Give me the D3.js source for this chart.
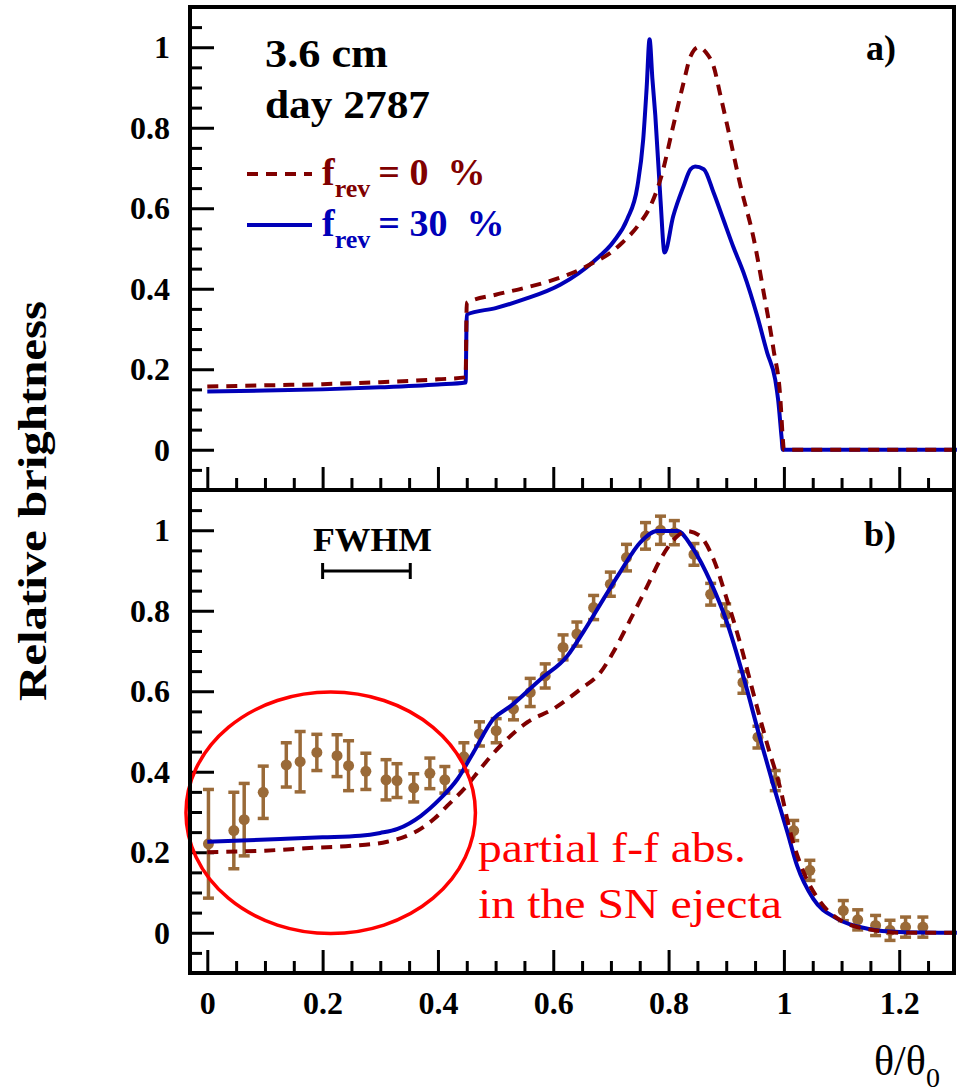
<!DOCTYPE html>
<html>
<head>
<meta charset="utf-8">
<script src="https://cdn.jsdelivr.net/npm/d3@7"></script>
<style>
body{margin:0;background:#fff}
svg text{font-family:"Liberation Serif","DejaVu Serif","Times New Roman",Times,serif}
</style>
</head>
<body>
<script>
// top panel a) model curves [theta/theta0, brightness]
const topNoRev=[[0,0.157],[0.1,0.16],[0.2,0.163],[0.3,0.168],[0.4,0.175],[0.448,0.18],[0.45,0.365],[0.5,0.385],[0.55,0.402],[0.6,0.422],[0.65,0.45],[0.67,0.465],[0.7,0.49],[0.72,0.515],[0.746,0.555],[0.77,0.61],[0.786,0.672],[0.808,0.804],[0.826,0.912],[0.838,0.977],[0.852,1.0],[0.867,0.983],[0.878,0.953],[0.89,0.88],[0.902,0.804],[0.925,0.654],[0.948,0.522],[0.965,0.39],[0.982,0.249],[0.994,0.124],[0.998,0.03],[1.0,0],[1.3,0]];
const topRev30=[[0,0.145],[0.1,0.147],[0.2,0.15],[0.3,0.155],[0.4,0.162],[0.448,0.167],[0.45,0.336],[0.5,0.352],[0.55,0.374],[0.612,0.41],[0.67,0.468],[0.705,0.518],[0.728,0.572],[0.746,0.655],[0.756,0.771],[0.762,0.9],[0.767,1.02],[0.772,0.92],[0.777,0.83],[0.786,0.62],[0.793,0.49],[0.808,0.58],[0.826,0.655],[0.838,0.697],[0.846,0.704],[0.861,0.697],[0.878,0.639],[0.895,0.572],[0.912,0.505],[0.93,0.44],[0.954,0.331],[0.971,0.241],[0.985,0.174],[0.99,0.124],[0.996,0.03],[0.998,0],[1.3,0]];
// bottom panel b) convolved model curves
const botNoRev=[[0,0.2],[0.1,0.204],[0.184,0.211],[0.25,0.216],[0.312,0.226],[0.345,0.24],[0.37,0.258],[0.395,0.285],[0.416,0.315],[0.45,0.365],[0.475,0.41],[0.508,0.464],[0.555,0.523],[0.6,0.556],[0.647,0.605],[0.682,0.647],[0.704,0.697],[0.734,0.779],[0.763,0.861],[0.786,0.928],[0.815,0.985],[0.832,0.998],[0.855,0.985],[0.878,0.928],[0.901,0.829],[0.925,0.715],[0.947,0.595],[0.971,0.469],[0.994,0.357],[1.011,0.25],[1.034,0.151],[1.063,0.077],[1.103,0.027],[1.162,0.005],[1.2,0],[1.3,0]];
const botRev30=[[0,0.226],[0.127,0.233],[0.2,0.237],[0.265,0.241],[0.3,0.248],[0.33,0.258],[0.37,0.29],[0.404,0.333],[0.434,0.382],[0.462,0.449],[0.496,0.531],[0.526,0.563],[0.578,0.63],[0.624,0.687],[0.652,0.747],[0.687,0.829],[0.716,0.896],[0.751,0.97],[0.78,0.998],[0.815,0.998],[0.843,0.953],[0.873,0.871],[0.901,0.772],[0.93,0.635],[0.959,0.481],[0.982,0.365],[1.006,0.25],[1.023,0.166],[1.051,0.084],[1.092,0.035],[1.145,0.01],[1.2,0.002],[1.3,0]];
// measured profile: x, brightness, error
const obsX=[0.002,0.046,0.064,0.097,0.137,0.161,0.19,0.225,0.245,0.275,0.31,0.329,0.358,0.386,0.412,0.445,0.472,0.501,0.531,0.56,0.586,0.617,0.641,0.67,0.699,0.727,0.76,0.786,0.81,0.844,0.873,0.899,0.929,0.955,0.985,1.017,1.045,1.103,1.128,1.159,1.184,1.211,1.241];
const obsY=[0.221,0.254,0.281,0.349,0.417,0.425,0.448,0.44,0.415,0.401,0.38,0.378,0.36,0.396,0.38,0.437,0.494,0.502,0.556,0.597,0.638,0.709,0.742,0.808,0.866,0.932,0.986,1.0,0.994,0.94,0.841,0.79,0.622,0.486,0.378,0.254,0.155,0.055,0.032,0.018,0.006,0.014,0.014];
const obsErr=[0.135,0.095,0.09,0.065,0.055,0.075,0.045,0.052,0.062,0.045,0.05,0.042,0.035,0.038,0.033,0.035,0.03,0.03,0.027,0.035,0.03,0.031,0.03,0.03,0.03,0.033,0.033,0.035,0.03,0.027,0.027,0.027,0.027,0.027,0.025,0.025,0.025,0.025,0.025,0.025,0.025,0.025,0.025];
const yTicks=[0,0.2,0.4,0.6,0.8,1];
const xTicks=[0,0.2,0.4,0.6,0.8,1,1.2];

const FONT='"Liberation Serif","DejaVu Serif","Times New Roman",Times,serif';
const W=960,H=1092,L=190,R=954,T=7,M=490,B=973;
const svg=d3.select("body").append("svg").attr("width",W).attr("height",H).attr("font-family",FONT);
const x=d3.scaleLinear([-0.03,1.295],[L,R]);
const yA=d3.scaleLinear([-0.1,1.1],[M,T]);
const yB=d3.scaleLinear([-0.1,1.1],[B,M]);
const red="#800000",blue="#0000b8",brown="#9a6a38";

const minorY=d3.range(-0.1,1.1001,0.05).map(v=>+v.toFixed(2)).filter(v=>v>-0.1&&v<1.1);
const minorX=d3.range(0,1.3,0.05).map(v=>+v.toFixed(2));

function axes(y,bottomY,labels){
  const gy=svg.append("g").attr("transform",`translate(${L},0)`);
  gy.call(d3.axisLeft(y).tickValues(minorY.filter(v=>!yTicks.includes(v))).tickSize(-12).tickFormat(""));
  gy.append("g").call(d3.axisLeft(y).tickValues(yTicks).tickSize(-24).tickPadding(20).tickFormat(d3.format("")));
  const gx=svg.append("g").attr("transform",`translate(0,${bottomY})`);
  gx.call(d3.axisBottom(x).tickValues(minorX.filter(v=>!xTicks.includes(v))).tickSize(-12).tickFormat(""));
  gx.append("g").call(d3.axisBottom(x).tickValues(xTicks).tickSize(-23).tickPadding(18).tickFormat(labels?d3.format(""):""));
  svg.selectAll(".domain").remove();
  svg.selectAll("g").attr("font-family",FONT);
  svg.selectAll(".tick line").attr("stroke","#000").attr("stroke-width",3);
  svg.selectAll(".tick text").attr("font-weight","bold").attr("font-size",32).attr("fill","#000");
}
axes(yA,M,false);
axes(yB,B,true);

// panel a)
const lineA=d3.line().x(d=>x(d[0])).y(d=>yA(d[1])).curve(d3.curveMonotoneX);
svg.append("path").attr("d",lineA(topRev30)).attr("fill","none").attr("stroke",blue).attr("stroke-width",4);
svg.append("path").attr("d",lineA(topNoRev)).attr("fill","none").attr("stroke",red).attr("stroke-width",4).attr("stroke-dasharray","11,8");

// panel b)
const smooth=d3.line().x(d=>x(d[0])).y(d=>yB(d[1])).curve(d3.curveMonotoneX);
const obs=obsX.map((v,i)=>({x:v,y:obsY[i],e:obsErr[i]}));
const gp=svg.append("g").attr("stroke",brown).attr("stroke-width",3.5);
gp.selectAll("line.bar").data(obs).join("line").attr("x1",d=>x(d.x)).attr("x2",d=>x(d.x)).attr("y1",d=>yB(d.y-d.e)).attr("y2",d=>yB(d.y+d.e));
gp.selectAll("line.lo").data(obs).join("line").attr("class","lo").attr("x1",d=>x(d.x)-5.5).attr("x2",d=>x(d.x)+5.5).attr("y1",d=>yB(d.y-d.e)).attr("y2",d=>yB(d.y-d.e));
gp.selectAll("line.hi").data(obs).join("line").attr("class","hi").attr("x1",d=>x(d.x)-5.5).attr("x2",d=>x(d.x)+5.5).attr("y1",d=>yB(d.y+d.e)).attr("y2",d=>yB(d.y+d.e));
svg.append("g").selectAll("circle").data(obs).join("circle").attr("cx",d=>x(d.x)).attr("cy",d=>yB(d.y)).attr("r",5.5).attr("fill",brown);
svg.append("path").attr("d",smooth(botRev30)).attr("fill","none").attr("stroke",blue).attr("stroke-width",4);
svg.append("path").attr("d",smooth(botNoRev)).attr("fill","none").attr("stroke",red).attr("stroke-width",4).attr("stroke-dasharray","11,8");

// red ellipse annotation
svg.append("ellipse").attr("cx",x(0.214)).attr("cy",yB(0.298)).attr("rx",x(0.251)-x(0)).attr("ry",yB(0)-yB(0.3))
  .attr("fill","none").attr("stroke","#ff0000").attr("stroke-width",3.5);
svg.append("text").attr("x",478).attr("y",862).attr("font-size",42).attr("fill","#ff0000").attr("textLength",268).attr("lengthAdjust","spacingAndGlyphs").text("partial f-f abs.");
svg.append("text").attr("x",478).attr("y",918).attr("font-size",42).attr("fill","#ff0000").attr("textLength",304).attr("lengthAdjust","spacingAndGlyphs").text("in the SN ejecta");

// FWHM bar
svg.append("text").attr("x",313).attr("y",551).attr("font-size",33).attr("font-weight","bold").attr("textLength",119).attr("lengthAdjust","spacingAndGlyphs").text("FWHM");
const fw=svg.append("g").attr("stroke","#000").attr("stroke-width",3);
fw.append("line").attr("x1",x(0.2)).attr("x2",x(0.352)).attr("y1",571).attr("y2",571);
fw.append("line").attr("x1",x(0.2)).attr("x2",x(0.2)).attr("y1",563).attr("y2",579);
fw.append("line").attr("x1",x(0.352)).attr("x2",x(0.352)).attr("y1",563).attr("y2",579);

// frame
svg.append("rect").attr("x",L).attr("y",T).attr("width",R-L).attr("height",B-T).attr("fill","none").attr("stroke","#000").attr("stroke-width",4);
svg.append("line").attr("x1",L).attr("x2",R).attr("y1",M).attr("y2",M).attr("stroke","#000").attr("stroke-width",4);

// labels
svg.append("text").attr("x",265).attr("y",67).attr("font-size",40).attr("font-weight","bold").attr("textLength",123).attr("lengthAdjust","spacingAndGlyphs").text("3.6 cm");
svg.append("text").attr("x",265).attr("y",118).attr("font-size",40).attr("font-weight","bold").attr("textLength",165).attr("lengthAdjust","spacingAndGlyphs").text("day 2787");
svg.append("text").attr("x",866).attr("y",60).attr("font-size",36).attr("font-weight","bold").text("a)");
svg.append("text").attr("x",864).attr("y",546).attr("font-size",36).attr("font-weight","bold").text("b)");

const leg=[{c:red,dash:"11,8",v:"= 0  %",y:174},{c:blue,dash:null,v:"= 30  %",y:225}];
leg.forEach(d=>{
  svg.append("line").attr("x1",247).attr("x2",312).attr("y1",d.y).attr("y2",d.y).attr("stroke",d.c).attr("stroke-width",4).attr("stroke-dasharray",d.dash);
  const t=svg.append("text").attr("x",322).attr("y",d.y+11).attr("font-size",38).attr("font-weight","bold").attr("fill",d.c).attr("xml:space","preserve");
  t.append("tspan").text("f");
  t.append("tspan").attr("dy",12).attr("font-size",26).text("rev");
  t.append("tspan").attr("dy",-12).attr("dx",8).text(d.v);
});

svg.append("text").attr("transform","translate(46,501) rotate(-90)").attr("text-anchor","middle").attr("font-size",40).attr("font-weight","bold")
  .attr("textLength",400).attr("lengthAdjust","spacingAndGlyphs").text("Relative brightness");
const xl=svg.append("text").attr("x",874).attr("y",1075).attr("font-size",42);
xl.append("tspan").text("θ/θ");
xl.append("tspan").attr("dy",12).attr("font-size",28).text("0");
</script>
</body>
</html>
